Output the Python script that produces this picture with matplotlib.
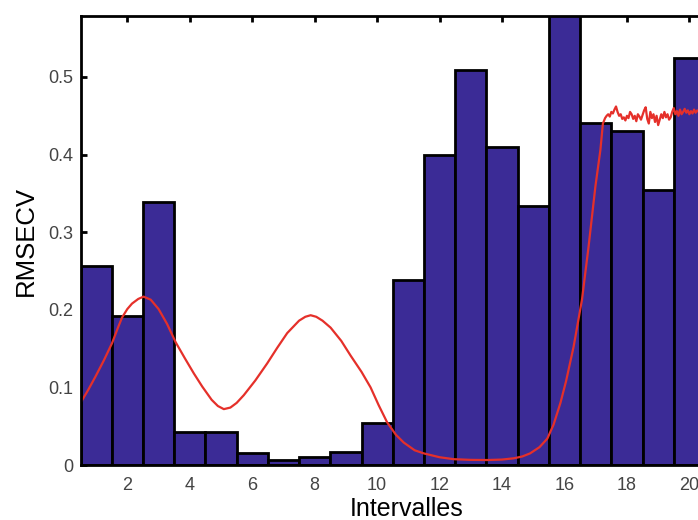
import matplotlib
matplotlib.use("Agg")
import matplotlib.pyplot as plt

intervals = list(range(1, 21))
rmsecv = [0.257, 0.192, 0.339, 0.042, 0.042, 0.016, 0.007, 0.010, 0.017, 0.054,
          0.238, 0.400, 0.509, 0.410, 0.334, 0.600, 0.441, 0.430, 0.354, 0.525]

x_ticks = [2, 4, 6, 8, 10, 12, 14, 16, 18, 20]
y_ticks = [0, 0.1, 0.2, 0.3, 0.4, 0.5]
y_tick_labels = ["0", "0.1", "0.2", "0.3", "0.4", "0.5"]

red_x = [0.5, 0.75, 0.98, 1.25, 1.51, 1.7, 1.83, 2.0, 2.15, 2.35, 2.52, 2.75, 3.0,
         3.27, 3.55, 3.85, 4.13, 4.4, 4.7, 4.9, 5.09, 5.3, 5.5, 5.73, 6.1, 6.48, 6.8,
         7.12, 7.5, 7.7, 7.87, 8.05, 8.25, 8.51, 8.85, 9.15, 9.5, 9.79, 10.05, 10.32,
         10.6, 10.85, 11.2, 11.49, 12.0, 12.45, 13.0, 13.52, 14.0, 14.37, 14.65, 14.9,
         15.2, 15.45, 15.65, 15.87, 16.05, 16.29, 16.56, 16.77, 16.99, 17.15, 17.23,
         17.3, 17.35, 17.4, 17.45, 17.5, 17.55, 17.6, 17.65, 17.7, 17.75, 17.8, 17.85,
         17.9, 17.95, 18.0, 18.05, 18.1, 18.15, 18.2, 18.25, 18.3, 18.35, 18.4, 18.45,
         18.5, 18.55, 18.6, 18.65, 18.7, 18.75, 18.8, 18.85, 18.9, 18.95, 19.0, 19.05,
         19.1, 19.15, 19.2, 19.25, 19.3, 19.35, 19.4, 19.45, 19.5, 19.55, 19.6, 19.65,
         19.7, 19.75, 19.8, 19.85, 19.9, 19.95, 20.0, 20.05, 20.1, 20.15, 20.2, 20.25,
         20.3, 20.35, 20.4, 20.45, 20.5]
red_y = [0.080, 0.097, 0.114, 0.135, 0.157, 0.177, 0.190, 0.201, 0.208, 0.214, 0.217,
         0.213, 0.201, 0.182, 0.158, 0.137, 0.118, 0.101, 0.084, 0.076, 0.072, 0.074,
         0.080, 0.090, 0.109, 0.131, 0.151, 0.170, 0.186, 0.191, 0.193, 0.191, 0.186,
         0.177, 0.160, 0.141, 0.120, 0.100, 0.077, 0.055, 0.039, 0.029, 0.019, 0.015,
         0.010, 0.0075, 0.0066, 0.0064, 0.007, 0.0086, 0.011, 0.015, 0.023, 0.034,
         0.052, 0.080, 0.108, 0.152, 0.213, 0.281, 0.359, 0.406, 0.440,
         0.447, 0.450, 0.452, 0.449, 0.455, 0.453, 0.458, 0.462, 0.455, 0.450, 0.452,
         0.446, 0.448, 0.444, 0.450, 0.447, 0.455, 0.452, 0.446, 0.450, 0.443, 0.452,
         0.449, 0.445, 0.451, 0.457, 0.461, 0.446, 0.440, 0.455, 0.447, 0.452, 0.442,
         0.450, 0.438, 0.445, 0.452, 0.447, 0.455, 0.448, 0.452, 0.445, 0.448, 0.455,
         0.460, 0.452, 0.456, 0.450, 0.458, 0.452, 0.455, 0.459, 0.454, 0.457, 0.452,
         0.456, 0.453, 0.458, 0.454, 0.457, 0.455, 0.459, 0.456, 0.458, 0.457]

plt.rcParams['font.family'] = ['Liberation Sans', 'DejaVu Sans']

fig = plt.figure(figsize=(6.98, 5.20), dpi=100)
ax = fig.add_axes([80.5 / 698, 1 - 465 / 520, 624.5 / 698, (465 - 16) / 520])

ax.bar(intervals, rmsecv, width=1.0, color='#3b2b96', edgecolor='black',
       linewidth=2.0, zorder=2)
ax.plot(red_x, red_y, color='#e5302a', linewidth=1.6, zorder=3,
        solid_joinstyle='round')

ax.set_xlim(0.5, 20.5)
ax.set_ylim(0, 0.5786)
ax.set_xticks(x_ticks)
ax.set_yticks(y_ticks)
ax.set_yticklabels(y_tick_labels)
ax.tick_params(direction='in', length=4, width=2, top=True, right=True,
               labelsize=13, labelcolor='#444444', color='black')
ax.tick_params(axis='x', pad=9)
ax.tick_params(axis='y', pad=5)
for s in ax.spines.values():
    s.set_linewidth(2.0)
    s.set_zorder(4)

ax.set_xlabel('Intervalles', fontsize=18, color='black')
ax.xaxis.set_label_coords(0.523, -0.072)
ax.set_ylabel('RMSECV', fontsize=18.5, color='black')
ax.yaxis.set_label_coords(-0.068, 0.5)

fig.savefig('out.png', dpi=100)
